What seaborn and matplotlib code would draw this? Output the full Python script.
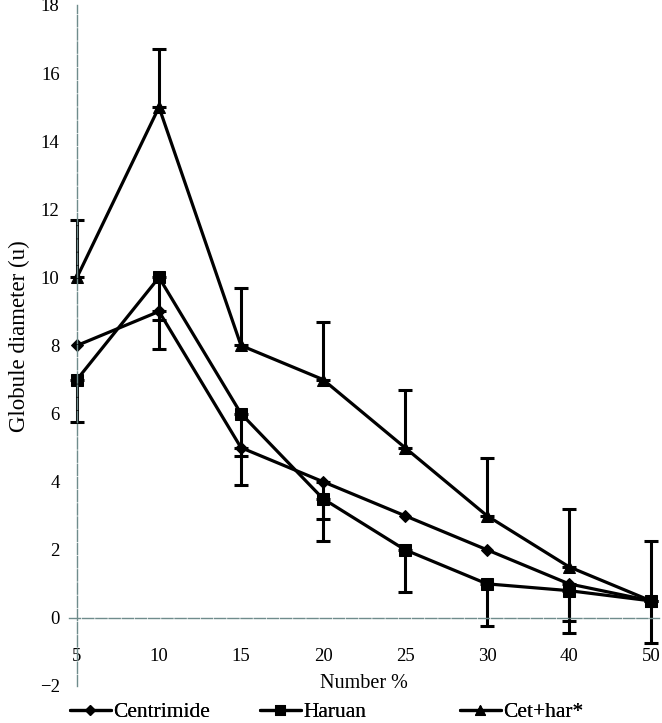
import numpy as np
import pandas as pd
import matplotlib
matplotlib.use("Agg")
import matplotlib.pyplot as plt
import seaborn as sns

# data
categories = ["5", "10", "15", "20", "25", "30", "40", "50"]
centrimide = [8, 9, 5, 4, 3, 2, 1, 0.5]
haruan = [7, 10, 6, 3.5, 2, 1, 0.8, 0.5]
cet_har = [10, 15, 8, 7, 5, 3, 1.5, 0.5]

# one-sided error bars (down for the first two, up for the mix)
centrimide_err_lo = [0, 1.1, 1.1, 1.1, 0, 0, 1.1, 0]
haruan_err_lo = [1.25, 1.25, 1.25, 1.25, 1.25, 1.25, 1.25, 1.25]
cet_har_err_hi = [1.7, 1.7, 1.7, 1.7, 1.7, 1.7, 1.7, 1.75]

series_names = ["Centrimide", "Haruan", "Cet+har*"]

pos = np.arange(len(categories))
df = pd.DataFrame({
    "pos": np.tile(pos, 3),
    "val": centrimide + haruan + cet_har,
    "series": np.repeat(series_names, len(categories)),
})

sns.set_style("white")
plt.rcParams["font.family"] = ["Liberation Serif", "DejaVu Serif"]
plt.rcParams["text.color"] = "black"
plt.rcParams["xtick.labelcolor"] = "black"
plt.rcParams["ytick.labelcolor"] = "black"

axis_col = "#6f8c8c"

fig = plt.figure(figsize=(6.62, 7.23), dpi=100)
ax = fig.add_axes([68.8 / 662, 37 / 723, 590.4 / 662, 681 / 723])

sns.lineplot(data=df, x="pos", y="val", style="series",
             markers={"Centrimide": "D", "Haruan": "s", "Cet+har*": "^"},
             dashes=False, color="black", linewidth=2.3, markersize=8,
             markeredgecolor="black", ax=ax)

# diamonds look smaller in the original
for ln in ax.lines:
    if ln.get_marker() == "D":
        ln.set_markersize(6.5)

def draw_err(vals, lo, hi):
    vals = np.array(vals, dtype=float)
    lo = np.array(lo, dtype=float)
    hi = np.array(hi, dtype=float)
    keep = (lo > 0) | (hi > 0)
    ax.errorbar(pos[keep], vals[keep], yerr=[lo[keep], hi[keep]], fmt="none",
                ecolor="black", elinewidth=2.2, capsize=5, capthick=2.2)

zeros = [0] * len(categories)
draw_err(centrimide, centrimide_err_lo, zeros)
draw_err(haruan, haruan_err_lo, zeros)
draw_err(cet_har, zeros, cet_har_err_hi)

ax.set_xlim(-0.1, 7.1)
ax.set_ylim(-2, 18)
ax.set_xticks(pos)
ax.set_xticklabels(categories)
ax.set_yticks(np.arange(-2, 19, 2))

for s in ["top", "right"]:
    ax.spines[s].set_visible(False)
ax.spines["left"].set_position(("data", 0))
ax.spines["bottom"].set_position(("data", 0))
for s in ["left", "bottom"]:
    ax.spines[s].set_color(axis_col)
    ax.spines[s].set_linewidth(1.0)
    ax.spines[s].set_linestyle((0, (8, 1.5)))

ax.tick_params(axis="y", direction="inout", length=7, width=1, color=axis_col,
               labelsize=13.5, pad=9, labelcolor="black")
ax.tick_params(axis="x", direction="inout", length=6, width=1, color=axis_col,
               labelsize=13.5, pad=19, labelcolor="black")
ax.set_xlabel("")
ax.set_ylabel("")
fig.text(19 / 662, 1 - 336 / 723, "Globule diameter (u)", fontsize=16.5,
         rotation=90, ha="center", va="center", color="black")
fig.text(364 / 662, 1 - 683 / 723, "Number %", fontsize=14.5,
         ha="center", va="center", color="black")

handles, labels = ax.get_legend_handles_labels()
ax.legend_.remove()
# each legend entry sits at its own spot along the bottom edge
leg_x = [70, 260, 460]
for h, lab, lx in zip(handles, labels, leg_x):
    lg = fig.legend([h], [lab], loc="center left", frameon=False,
                    bbox_to_anchor=(lx / 662, 1 - 712 / 723), fontsize=15.5,
                    handlelength=1.9, handletextpad=0.1, markerscale=0.85,
                    borderaxespad=0, borderpad=0, labelcolor="black")
    fig.add_artist(lg)

fig.savefig("out.png", dpi=100)
